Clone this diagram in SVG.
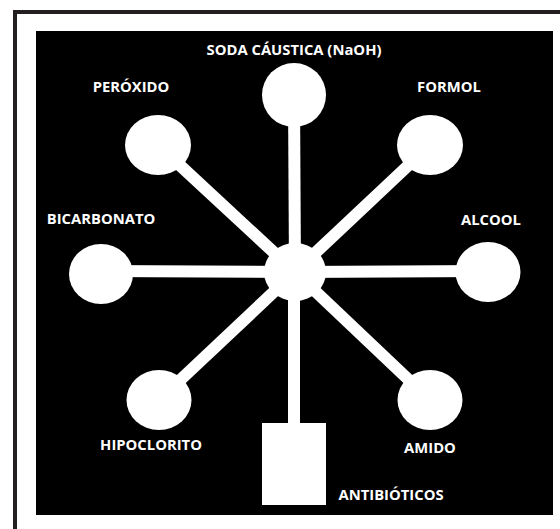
<svg xmlns="http://www.w3.org/2000/svg" width="560" height="529" viewBox="0 0 560 529">
<style>
.lbl{font-family:"Open Sans","Liberation Sans",sans-serif;font-weight:700;font-size:14.8px;fill:#fff;text-anchor:middle}
.node{fill:#fff}
.spoke{stroke:#fff;stroke-width:12;fill:none}
</style>
<rect x="0" y="0" width="560" height="529" fill="#fff"/>
<rect x="15" y="12" width="600" height="600" fill="#fff" stroke="#231f20" stroke-width="4"/>
<rect x="36" y="31" width="517" height="484" fill="#000"/>
<g id="connectors">
<line class="spoke" x1="295" y1="272" x2="294" y2="95"/>
<line class="spoke" x1="295" y1="272" x2="158" y2="145"/>
<line class="spoke" x1="295" y1="272" x2="430" y2="145"/>
<line class="spoke" x1="295" y1="272" x2="101" y2="271"/>
<line class="spoke" x1="295" y1="272" x2="488" y2="271"/>
<line class="spoke" x1="295" y1="272" x2="159" y2="400"/>
<line class="spoke" x1="295" y1="272" x2="430" y2="400"/>
<line class="spoke" x1="294" y1="272" x2="294" y2="430"/>
</g>
<g id="hub"><ellipse class="node" cx="295" cy="272" rx="31" ry="29"/></g>
<g id="soda"><circle class="node" cx="294" cy="95" r="32"/><text class="lbl" x="294" y="55">SODA CÁUSTICA (NaOH)</text></g>
<g id="peroxido"><ellipse class="node" cx="158" cy="145" rx="33" ry="30"/><text class="lbl" x="131" y="92">PERÓXIDO</text></g>
<g id="formol"><ellipse class="node" cx="430" cy="145" rx="33" ry="30"/><text class="lbl" x="449" y="92">FORMOL</text></g>
<g id="bicarbonato"><ellipse class="node" cx="101" cy="274" rx="32" ry="30"/><text class="lbl" x="101" y="224">BICARBONATO</text></g>
<g id="alcool"><ellipse class="node" cx="488" cy="272" rx="32.5" ry="30"/><text class="lbl" x="491" y="225">ALCOOL</text></g>
<g id="hipoclorito"><ellipse class="node" cx="159" cy="400" rx="32.5" ry="30"/><text class="lbl" x="151" y="450">HIPOCLORITO</text></g>
<g id="amido"><ellipse class="node" cx="430" cy="400" rx="32.5" ry="30"/><text class="lbl" x="430" y="453">AMIDO</text></g>
<g id="antibioticos"><rect class="node" x="262" y="423" width="64" height="82"/><text class="lbl" x="391" y="500">ANTIBIÓTICOS</text></g>
</svg>
